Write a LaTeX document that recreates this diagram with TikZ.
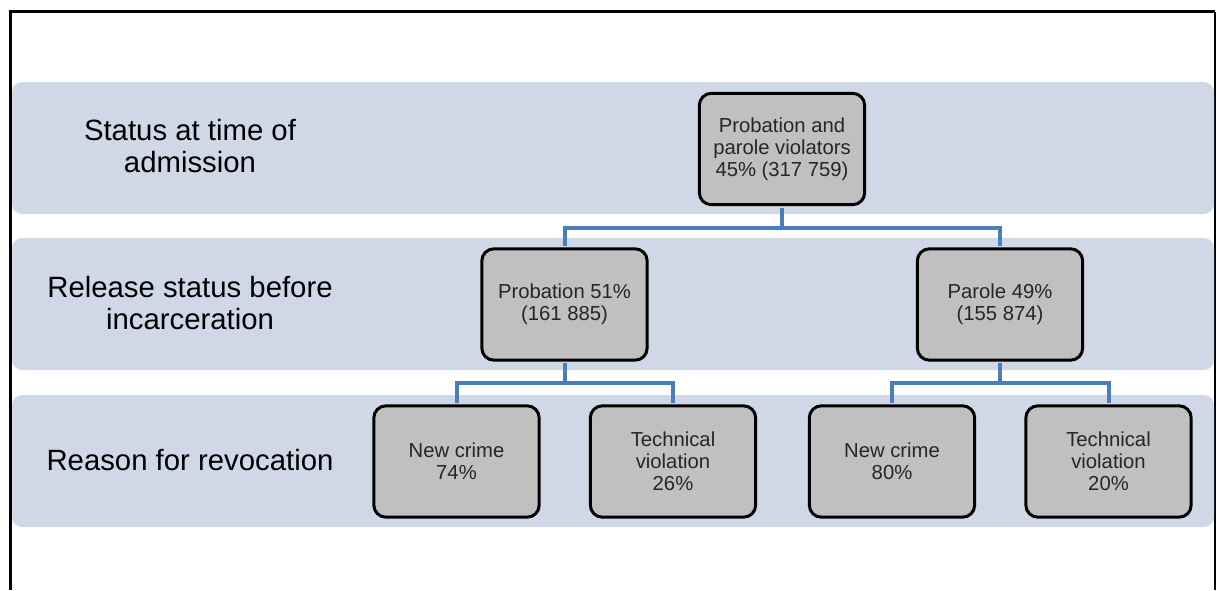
\documentclass[tikz,border=0pt]{standalone}
\usepackage{xcolor}
\usepackage{fontspec}
\setmainfont{Liberation Sans}
\usepackage{tikz}

\definecolor{bandfill}{RGB}{208,216,232}
\definecolor{boxfill}{RGB}{192,192,192}
\definecolor{boxtext}{RGB}{38,38,38}
\definecolor{linkblue}{RGB}{74,126,187}

\begin{document}
\begin{tikzpicture}[x=0.75pt,y=0.75pt,yscale=-1,xscale=1,
  band/.style={fill=bandfill,rounded corners=7.5pt,minimum width=901.5pt,minimum height=99pt,inner sep=0pt},
  rowlabel/.style={align=center,inner sep=0.75pt,font=\fontsize{22}{24}\selectfont,text=black},
  box/.style={draw=black,line width=2.25pt,fill=boxfill,rounded corners=9pt,minimum width=124pt,minimum height=83.5pt,align=center,inner sep=0.75pt,font=\fontsize{15.2}{16.5}\selectfont,text=boxtext},
  link/.style={draw=linkblue,line width=3pt,shorten <=1.1pt,shorten >=1.1pt}]
\useasboundingbox (0,0) rectangle (1216,590);

%Frame
\draw [line width=2.25pt] (10,590) -- (10,11.5) -- (1215,11.5) ;
\draw [line width=1.1pt] (1215,11.5) -- (1215,590) ;

%Bands
\draw (613,148) node [band] (bandA) {};
\draw (613,304) node [band] (bandB) {};
\draw (613,461) node [band] (bandC) {};

% Text Node
\draw (190,146) node [rowlabel] (lblA) {Status at time of\\admission};
% Text Node
\draw (190,303) node [rowlabel] (lblB) {Release status before\\incarceration};
% Text Node
\draw (190,460) node [rowlabel] (lblC) {Reason for revocation};

%Rounded Rect
\draw (782,149) node [box] (violators) {Probation and\\parole violators\\45\% (317 759)};
%Rounded Rect
\draw (564.5,304.5) node [box] (probation) {Probation 51\%\\(161 885)};
%Rounded Rect
\draw (1000,304.5) node [box] (parole) {Parole 49\%\\(155 874)};
%Rounded Rect
\draw (456.5,461.5) node [box] (probNew) {New crime\\74\%};
%Rounded Rect
\draw (673,461.5) node [box] (probTech) {Technical\\violation\\26\%};
%Rounded Rect
\draw (892,461.5) node [box] (parNew) {New crime\\80\%};
%Rounded Rect
\draw (1108.5,461.5) node [box] (parTech) {Technical\\violation\\20\%};

%Connectors
\draw [link] (violators.south) -- ++(0,22) -| (probation.north) ;
\draw [link] (violators.south) -- ++(0,22) -| (parole.north) ;
\draw [link] (probation.south) -- ++(0,21) -| (probNew.north) ;
\draw [link] (probation.south) -- ++(0,21) -| (probTech.north) ;
\draw [link] (parole.south) -- ++(0,21) -| (parNew.north) ;
\draw [link] (parole.south) -- ++(0,21) -| (parTech.north) ;

\end{tikzpicture}
\end{document}
